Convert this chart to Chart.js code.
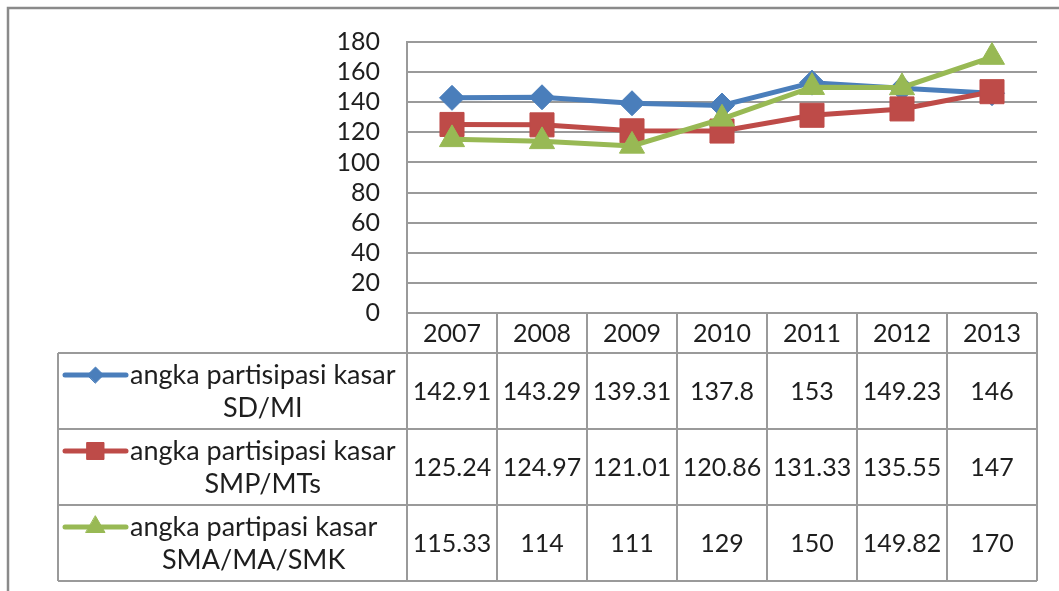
<!DOCTYPE html>
<html>
<head>
<meta charset="utf-8">
<script src="https://cdn.jsdelivr.net/npm/chart.js@4/dist/chart.umd.min.js"></script>
<style>
	html, body { margin: 0; padding: 0; background: #fff; }
	canvas { display: block; }
</style>
</head>
<body>
<canvas id="chart" width="1059" height="591"></canvas>
<script>
const years = ['2007', '2008', '2009', '2010', '2011', '2012', '2013'];
const sdLabel = ['angka partisipasi kasar', 'SD/MI'];
const smpLabel = ['angka partisipasi kasar', 'SMP/MTs'];
const smaLabel = ['angka partipasi kasar', 'SMA/MA/SMK'];
const sdValues = [142.91, 143.29, 139.31, 137.8, 153, 149.23, 146];
const smpValues = [125.24, 124.97, 121.01, 120.86, 131.33, 135.55, 147];
const smaValues = [115.33, 114, 111, 129, 150, 149.82, 170];
const yTicks = [0, 20, 40, 60, 80, 100, 120, 140, 160, 180];

const GRID = '#9a9a9a';
const TEXT = '#1e1e1e';
const NUM_FONT = '25px Lato';
const LABEL_FONT = '27px Lato';

// table geometry (below the plot area)
const HEADER_H = 40;
const ROW_H = 76;
const TABLE_LEFT = 58;
const KEY_LEFT = 65;
const KEY_RIGHT = 126;

const series = [
	{ label: sdLabel, data: sdValues, color: '#4a7ebb', style: 'rectRot', r: 12.5, keyR: 8, order: 3 },
	{ label: smpLabel, data: smpValues, color: '#be4b48', style: 'rect', r: 17, keyR: 12, order: 2 },
	{ label: smaLabel, data: smaValues, color: '#98b954', style: 'triangle', r: 14.5, keyR: 11, order: 1 }
];

const frame = {
	id: 'frame',
	beforeDraw(chart) {
		const { ctx, width, height } = chart;
		ctx.save();
		ctx.strokeStyle = '#8a8a8a';
		ctx.lineWidth = 2.5;
		ctx.beginPath();
		ctx.moveTo(width, 8);
		ctx.lineTo(8, 8);
		ctx.lineTo(8, height);
		ctx.stroke();
		ctx.restore();
	}
};

const dataTable = {
	id: 'dataTable',
	afterDraw(chart) {
		const { ctx, chartArea } = chart;
		const x = chart.scales.x;
		const half = (x.getPixelForValue(1) - x.getPixelForValue(0)) / 2;
		const top = chartArea.bottom;
		const headBottom = top + HEADER_H;
		const bottom = headBottom + ROW_H * series.length;
		const right = chartArea.right;

		ctx.save();
		ctx.strokeStyle = GRID;
		ctx.lineWidth = 2;
		ctx.beginPath();
		// column lines
		for (let i = 0; i <= years.length; i++) {
			const cx = Math.round(x.getPixelForValue(0) - half + i * 2 * half);
			ctx.moveTo(cx, top);
			ctx.lineTo(cx, bottom);
		}
		// row lines
		ctx.moveTo(TABLE_LEFT, headBottom);
		ctx.lineTo(right, headBottom);
		for (let r = 1; r <= series.length; r++) {
			const ry = headBottom + r * ROW_H;
			ctx.moveTo(TABLE_LEFT, ry);
			ctx.lineTo(right, ry);
		}
		ctx.moveTo(TABLE_LEFT, headBottom);
		ctx.lineTo(TABLE_LEFT, bottom);
		ctx.stroke();

		ctx.fillStyle = TEXT;
		ctx.textAlign = 'center';
		ctx.textBaseline = 'middle';
		ctx.font = NUM_FONT;
		years.forEach((yr, i) => {
			ctx.fillText(yr, x.getPixelForValue(i), (top + headBottom) / 2 + 1);
		});

		series.forEach((s, r) => {
			const cy = headBottom + r * ROW_H + ROW_H / 2;
			ctx.font = NUM_FONT;
			ctx.fillStyle = TEXT;
			s.data.forEach((v, i) => {
				ctx.fillText(String(v), x.getPixelForValue(i), cy + 1);
			});

			// legend key
			const ky = cy - 16;
			ctx.strokeStyle = s.color;
			ctx.lineWidth = 5;
			ctx.lineCap = 'round';
			ctx.beginPath();
			ctx.moveTo(KEY_LEFT, ky);
			ctx.lineTo(KEY_RIGHT, ky);
			ctx.stroke();
			ctx.fillStyle = s.color;
			ctx.strokeStyle = s.color;
			ctx.lineWidth = 1;
			Chart.helpers.drawPoint(ctx, { pointStyle: s.style, radius: s.keyR, rotation: 0, borderWidth: 1 }, (KEY_LEFT + KEY_RIGHT) / 2, ky);

			// label text, each line centred on the block
			ctx.font = LABEL_FONT;
			ctx.fillStyle = TEXT;
			const blockW = Math.max(...s.label.map(t => ctx.measureText(t).width));
			const cx = KEY_RIGHT + 4 + blockW / 2;
			s.label.forEach((t, j) => {
				ctx.fillText(t, cx, ky + j * 33);
			});
		});
		ctx.restore();
	}
};

const canvas = document.getElementById('chart');
new Chart(canvas.getContext('2d'), {
	type: 'line',
	data: {
		labels: years,
		datasets: series.map(s => ({
			label: s.label.join(' '),
			data: s.data,
			order: s.order,
			borderColor: s.color,
			backgroundColor: s.color,
			borderWidth: 5,
			tension: 0,
			pointStyle: s.style,
			pointRadius: s.r,
			pointHoverRadius: s.r,
			pointBackgroundColor: s.color,
			pointBorderColor: s.color,
			pointBorderWidth: 1
		}))
	},
	options: {
		responsive: false,
		animation: false,
		layout: { padding: { left: 0, top: 39, right: 22, bottom: 278 } },
		plugins: {
			legend: { display: false },
			tooltip: { enabled: false }
		},
		scales: {
			x: {
				offset: true,
				display: false
			},
			y: {
				min: 0,
				max: 180,
				afterFit: (scale) => { scale.width = 407; },
				afterBuildTicks: (scale) => { scale.ticks = yTicks.map(v => ({ value: v })); },
				grid: { color: GRID, lineWidth: 2, drawTicks: false },
				border: { color: GRID, width: 2 },
				ticks: {
					autoSkip: false,
					padding: 27,
					color: TEXT,
					font: { family: 'Lato', size: 25 }
				}
			}
		}
	},
	plugins: [frame, dataTable]
});
</script>
</body>
</html>
